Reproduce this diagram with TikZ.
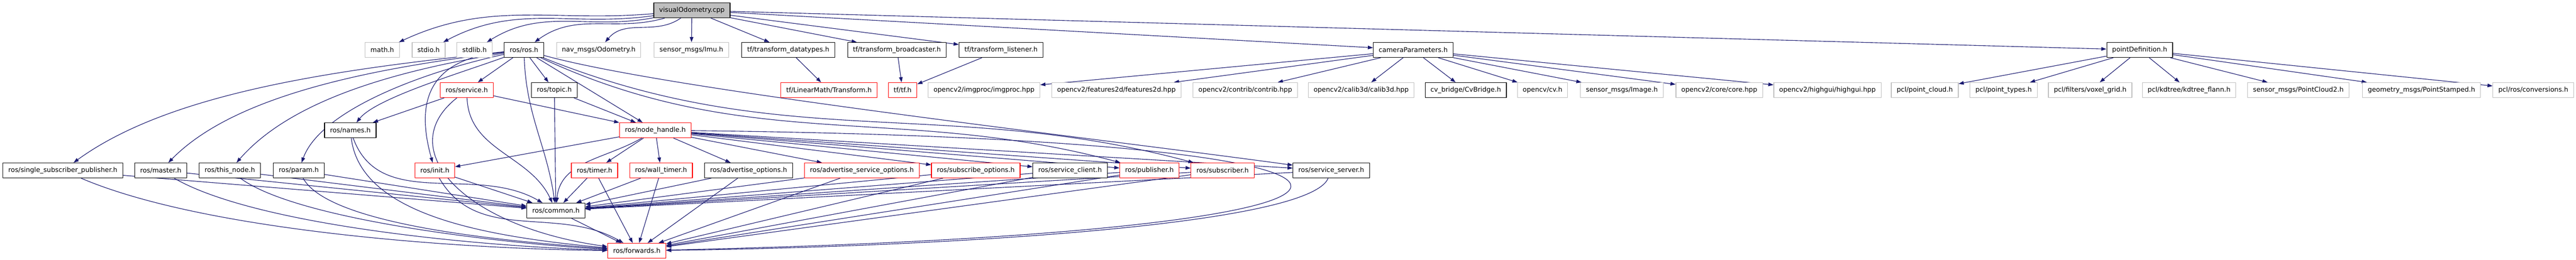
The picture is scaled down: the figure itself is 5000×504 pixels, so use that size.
\documentclass[tikz,border=0pt]{standalone}
\usepackage{fontspec}
\setmainfont{DejaVu Sans}
\usepackage{tikz}
\usetikzlibrary{arrows.meta, backgrounds}

\definecolor{edgeblue}{HTML}{191970}
\definecolor{extgray}{HTML}{BFBFBF}

\begin{document}
\begin{tikzpicture}[x=0.25pt, y=0.25pt, >={Triangle[length=2.5pt,width=1.75pt]}, line join=round,
    hdr/.style={draw, fill=white, line width=0.3pt, minimum height=7.25pt, inner xsep=2.625pt,
        inner ysep=0pt, font=\fontsize{3.2}{3.8}\selectfont},
    docfile/.style={hdr, draw=black},
    nodocfile/.style={hdr, draw=red},
    extfile/.style={hdr, draw=extgray},
    rootfile/.style={hdr, draw=black, fill=extgray},
    incl/.style={->, draw=edgeblue, line width=0.28pt}]

    \useasboundingbox (0,0) rectangle (5000,-504);

    % 根文件
    \node[rootfile] (vo) at (1343,-20) {visualOdometry.cpp};

    % 第一层
    \node[extfile] (math) at (742,-97) {math.h};
    \node[extfile] (stdio) at (832,-97) {stdio.h};
    \node[extfile] (stdlib) at (921,-97) {stdlib.h};
    \node[docfile] (rosros) at (1017,-97) {ros/ros.h};
    \node[extfile] (odom) at (1162,-97) {nav\_msgs/Odometry.h};
    \node[extfile] (imu) at (1342,-97) {sensor\_msgs/Imu.h};
    \node[docfile] (tfdt) at (1530,-97) {tf/transform\_datatypes.h};
    \node[docfile] (tfbc) at (1741,-97) {tf/transform\_broadcaster.h};
    \node[docfile] (tfls) at (1943,-97) {tf/transform\_listener.h};
    \node[docfile] (campar) at (2743,-97) {cameraParameters.h};
    \node[docfile] (ptdef) at (4153,-97) {pointDefinition.h};

    % 第二层
    \node[nodocfile] (service) at (906,-175) {ros/service.h};
    \node[docfile] (topic) at (1076,-175) {ros/topic.h};
    \node[nodocfile] (lmtrans) at (1609,-175) {tf/LinearMath/Transform.h};
    \node[nodocfile] (tftf) at (1752,-175) {tf/tf.h};
    \node[extfile] (imgproc) at (1910,-175) {opencv2/imgproc/imgproc.hpp};
    \node[extfile] (feat2d) at (2167,-175) {opencv2/features2d/features2d.hpp};
    \node[extfile] (contrib) at (2417,-175) {opencv2/contrib/contrib.hpp};
    \node[extfile] (calib3d) at (2642,-175) {opencv2/calib3d/calib3d.hpp};
    \node[docfile] (cvbridge) at (2845,-175) {cv\_bridge/CvBridge.h};
    \node[extfile] (cvh) at (2994,-175) {opencv/cv.h};
    \node[extfile] (image) at (3148,-175) {sensor\_msgs/Image.h};
    \node[extfile] (core) at (3337,-175) {opencv2/core/core.hpp};
    \node[extfile] (highgui) at (3547,-175) {opencv2/highgui/highgui.hpp};
    \node[extfile] (pcloud) at (3736,-175) {pcl/point\_cloud.h};
    \node[extfile] (ptypes) at (3889,-175) {pcl/point\_types.h};
    \node[extfile] (voxel) at (4057,-175) {pcl/filters/voxel\_grid.h};
    \node[extfile] (kdtree) at (4249,-175) {pcl/kdtree/kdtree\_flann.h};
    \node[extfile] (pc2) at (4461,-175) {sensor\_msgs/PointCloud2.h};
    \node[extfile] (ptstamp) at (4700,-175) {geometry\_msgs/PointStamped.h};
    \node[extfile] (conv) at (4917,-175) {pcl/ros/conversions.h};

    % 第三层
    \node[docfile] (names) at (680,-253) {ros/names.h};
    \node[nodocfile] (nodehandle) at (1272,-253) {ros/node\_handle.h};

    % 第四层
    \node[docfile] (ssp) at (122,-331) {ros/single\_subscriber\_publisher.h};
    \node[docfile] (master) at (312,-331) {ros/master.h};
    \node[docfile] (thisnode) at (446,-331) {ros/this\_node.h};
    \node[docfile] (param) at (580,-331) {ros/param.h};
    \node[nodocfile] (init) at (844,-331) {ros/init.h};
    \node[nodocfile] (timer) at (1154,-331) {ros/timer.h};
    \node[nodocfile] (walltimer) at (1283,-331) {ros/wall\_timer.h};
    \node[docfile] (advopt) at (1453,-331) {ros/advertise\_options.h};
    \node[nodocfile] (advsrv) at (1673,-331) {ros/advertise\_service\_options.h};
    \node[nodocfile] (subopt) at (1894,-331) {ros/subscribe\_options.h};
    \node[docfile] (srvclient) at (2077,-331) {ros/service\_client.h};
    \node[nodocfile] (publisher) at (2231,-331) {ros/publisher.h};
    \node[nodocfile] (subscriber) at (2373,-331) {ros/subscriber.h};
    \node[docfile] (srvserver) at (2584,-331) {ros/service\_server.h};

    % 底层
    \node[docfile] (common) at (1079,-409) {ros/common.h};
    \node[nodocfile] (forwards) at (1236,-487) {ros/forwards.h};

    \begin{pgfonlayer}{background}
    % 根文件的包含
    \draw[incl] (vo) to[out=185,in=25] (math);
    \draw[incl] (vo) to[out=188,in=28] (stdio);
    \draw[incl] (vo) to[out=191,in=32] (stdlib);
    \draw[incl] (vo) to[out=196,in=36] (rosros);
    \draw[incl] (vo) to[out=215,in=50] (odom);
    \draw[incl] (vo) -- (imu);
    \draw[incl] (vo) -- (tfdt);
    \draw[incl] (vo) -- (tfbc);
    \draw[incl] (vo) -- (tfls);
    \draw[incl] (vo) -- (campar);
    \draw[incl] (vo) -- (ptdef);

    % tf
    \draw[incl] (tfdt) -- (lmtrans);
    \draw[incl] (tfbc) -- (tftf);
    \draw[incl] (tfls) -- (tftf);

    % cameraParameters.h
    \draw[incl] (campar) -- (imgproc);
    \draw[incl] (campar) -- (feat2d);
    \draw[incl] (campar) -- (contrib);
    \draw[incl] (campar) -- (calib3d);
    \draw[incl] (campar) -- (cvbridge);
    \draw[incl] (campar) -- (cvh);
    \draw[incl] (campar) -- (image);
    \draw[incl] (campar) -- (core);
    \draw[incl] (campar) -- (highgui);

    % pointDefinition.h
    \draw[incl] (ptdef) -- (pcloud);
    \draw[incl] (ptdef) -- (ptypes);
    \draw[incl] (ptdef) -- (voxel);
    \draw[incl] (ptdef) -- (kdtree);
    \draw[incl] (ptdef) -- (pc2);
    \draw[incl] (ptdef) -- (ptstamp);
    \draw[incl] (ptdef) -- (conv);

    % ros/ros.h
    \draw[incl] (rosros) .. controls (650,-135) and (330,-180) .. (ssp);
    \draw[incl] (rosros) .. controls (700,-135) and (450,-190) .. (master);
    \draw[incl] (rosros) .. controls (750,-140) and (560,-200) .. (thisnode);
    \draw[incl] (rosros) .. controls (800,-145) and (620,-220) .. (param);
    \draw[incl] (rosros) .. controls (900,-140) and (730,-190) .. (names);
    \draw[incl] (rosros) .. controls (820,-115) and (810,-210) .. (init);
    \draw[incl] (rosros) -- (service);
    \draw[incl] (rosros) -- (topic);
    \draw[incl] (rosros) to[out=-88,in=98] (common);
    \draw[incl] (rosros) -- (nodehandle);
    \draw[incl] (rosros) to[out=-25,in=165] (publisher);
    \draw[incl] (rosros) to[out=-22,in=165] (subscriber);
    \draw[incl] (rosros) .. controls (1300,-175) and (2100,-265) .. (srvserver);

    % ros/service.h 与 ros/topic.h
    \draw[incl] (service) -- (names);
    \draw[incl] (service) -- (nodehandle);
    \draw[incl] (service) to[out=-88,in=115] (common);
    \draw[incl] (service) .. controls (760,-290) and (900,-440) .. (forwards);
    \draw[incl] (topic) -- (common);
    \draw[incl] (topic) -- (nodehandle);

    % ros/names.h
    \draw[incl] (names) to[out=-70,in=150] (common);
    \draw[incl] (names) .. controls (700,-420) and (950,-460) .. (forwards);

    % ros/node_handle.h
    \draw[incl] (nodehandle) -- (init);
    \draw[incl] (nodehandle) to[out=-150,in=85] (common);
    \draw[incl] (nodehandle) -- (timer);
    \draw[incl] (nodehandle) -- (walltimer);
    \draw[incl] (nodehandle) -- (advopt);
    \draw[incl] (nodehandle) -- (advsrv);
    \draw[incl] (nodehandle) -- (subopt);
    \draw[incl] (nodehandle) -- (srvclient);
    \draw[incl] (nodehandle) -- (publisher);
    \draw[incl] (nodehandle) -- (subscriber);
    \draw[incl] (nodehandle) -- (srvserver);
    \draw[incl] (nodehandle) .. controls (2900,-270) and (2900,-450) .. (forwards);

    % 第四层到 ros/common.h
    \draw[incl] (ssp) -- (common);
    \draw[incl] (master) -- (common);
    \draw[incl] (thisnode) -- (common);
    \draw[incl] (param) -- (common);
    \draw[incl] (init) -- (common);
    \draw[incl] (timer) -- (common);
    \draw[incl] (walltimer) -- (common);
    \draw[incl] (advopt) -- (common);
    \draw[incl] (advsrv) -- (common);
    \draw[incl] (subopt) -- (common);
    \draw[incl] (srvclient) -- (common);
    \draw[incl] (publisher) -- (common);
    \draw[incl] (subscriber) -- (common);
    \draw[incl] (srvserver) -- (common);

    % 第四层到 ros/forwards.h
    \draw[incl] (ssp) .. controls (400,-450) and (900,-484) .. (forwards);
    \draw[incl] (master) .. controls (500,-440) and (950,-480) .. (forwards);
    \draw[incl] (thisnode) .. controls (580,-430) and (1000,-475) .. (forwards);
    \draw[incl] (param) .. controls (640,-440) and (1000,-470) .. (forwards);
    \draw[incl] (init) to[out=-60,in=150] (forwards);
    \draw[incl] (timer) -- (forwards);
    \draw[incl] (walltimer) -- (forwards);
    \draw[incl] (advopt) -- (forwards);
    \draw[incl] (advsrv) -- (forwards);
    \draw[incl] (subopt) -- (forwards);
    \draw[incl] (srvclient) -- (forwards);
    \draw[incl] (publisher) -- (forwards);
    \draw[incl] (subscriber) -- (forwards);
    \draw[incl] (srvserver) .. controls (2540,-440) and (1800,-480) .. (forwards);
    \draw[incl] (common) -- (forwards);
    \end{pgfonlayer}

\end{tikzpicture}
\end{document}
